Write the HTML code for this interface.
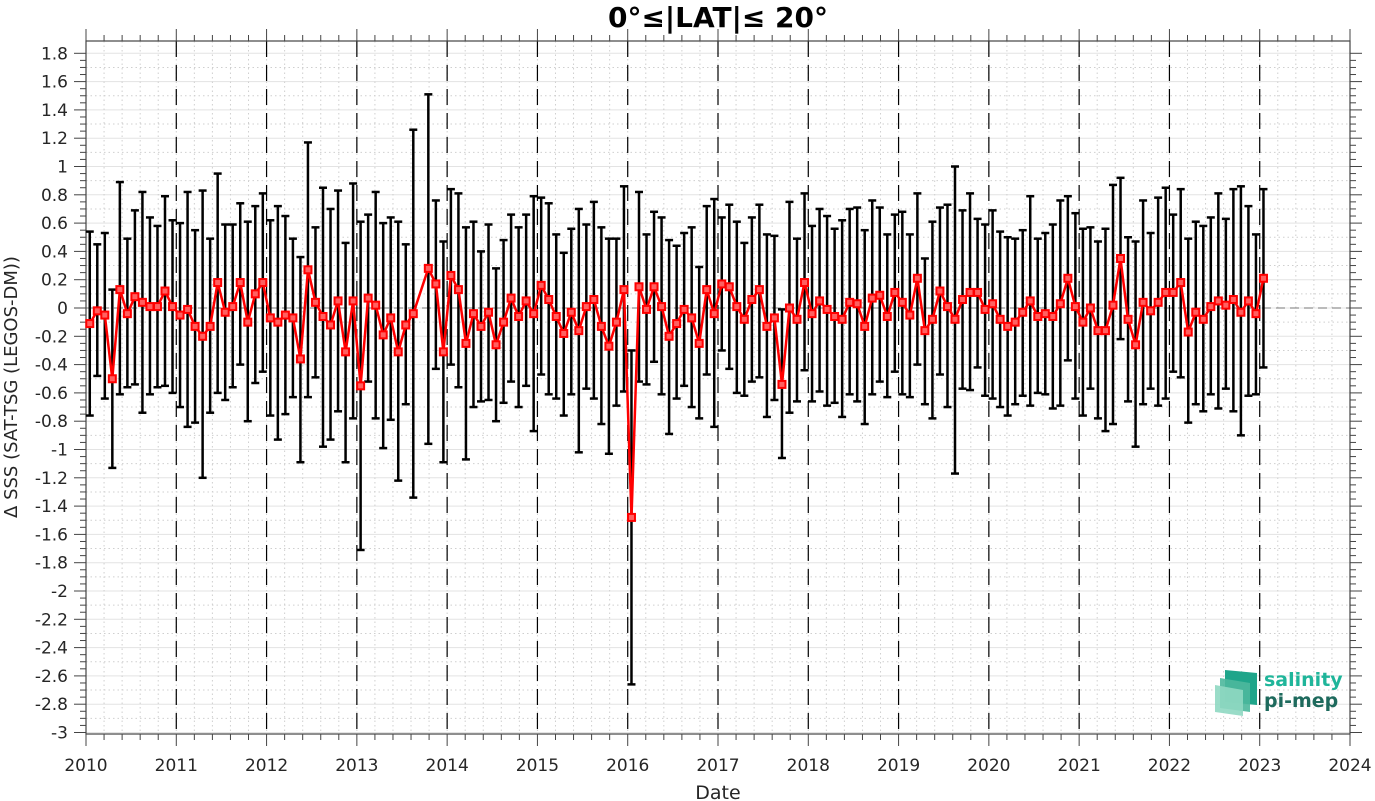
<!DOCTYPE html>
<html><head><meta charset="utf-8">
<style>
html,body{margin:0;padding:0;background:#fff;}
svg{display:block;font-family:"DejaVu Sans","Liberation Sans",sans-serif;}
</style></head>
<body>
<svg id="chart" width="1375" height="801" viewBox="0 0 1375 801" xmlns="http://www.w3.org/2000/svg">
<text x="718" y="27" text-anchor="middle" font-size="28" font-weight="bold" fill="#000">0°≤|LAT|≤ 20°</text>
<text transform="translate(17,387) rotate(-90)" text-anchor="middle" font-size="18" fill="#262626">Δ SSS (SAT-TSG (LEGOS-DM))</text>
<text x="718" y="799" text-anchor="middle" font-size="19" fill="#262626">Date</text>
<g id="grid"></g>
<g id="axes"></g>
<g id="bars"></g>
<g id="series"></g>
<g>
<polygon points="1225,670 1257,673 1257,705 1225,702" fill="#1fa58a"/>
<polygon points="1220,678 1250,683 1250,712 1220,708" fill="#4cb89c" opacity="0.9"/>
<polygon points="1215,685 1243,690 1243,716 1215,712" fill="#8fd8c2" opacity="0.9"/>
<text x="1264" y="686" font-size="19" font-weight="bold" fill="#1fb59a">salinity</text>
<text x="1264" y="707" font-size="19" font-weight="bold" fill="#1e6a5d">pi-mep</text>
</g>
</svg>
<script>
const months=[0,1,2,3,4,5,6,7,8,9,10,11,12,13,14,15,16,17,18,19,20,21,22,23,24,25,26,27,28,29,30,31,32,33,34,35,36,37,38,39,40,41,42,43,
45,46,47,48,49,50,51,52,53,54,55,56,57,58,59,60,61,62,63,64,65,66,67,68,69,70,71,
72,73,74,75,76,77,78,79,80,81,82,83,84,85,86,87,88,89,90,91,92,93,94,95,96,97,98,99,100,101,102,103,104,105,106,107,
108,109,110,111,112,113,114,115,116,117,118,119,120,121,122,123,124,125,126,127,128,129,130,131,132,133,134,135,136,137,138,139,140,141,142,143,
144,145,146,147,148,149,150,151,152,153,154,155,156];
const meanVals=[-0.11,-0.02,-0.05,-0.50,0.13,-0.04,0.08,0.04,0.01,0.01,0.12,0.01,
-0.05,-0.01,-0.13,-0.20,-0.13,0.18,-0.03,0.01,0.18,-0.10,0.10,0.18,
-0.07,-0.10,-0.05,-0.07,-0.36,0.27,0.04,-0.06,-0.12,0.05,-0.31,0.05,
-0.55,0.07,0.02,-0.19,-0.07,-0.31,-0.12,-0.04,
0.28,0.17,-0.31,0.23,0.13,-0.25,-0.04,-0.13,-0.03,-0.26,-0.10,0.07,-0.06,0.05,-0.04,0.16,0.06,-0.06,-0.18,-0.03,-0.16,0.01,0.06,-0.13,-0.27,-0.10,0.13,
-1.48,0.15,-0.01,0.15,0.01,-0.20,-0.11,-0.01,-0.07,-0.25,0.13,-0.04,0.17,0.15,0.01,-0.08,0.06,0.13,-0.13,-0.07,-0.54,0.00,-0.08,0.18,-0.04,0.05,-0.01,-0.06,-0.08,0.04,0.03,-0.13,0.07,0.09,-0.06,0.11,
0.04,-0.05,0.21,-0.16,-0.08,0.12,0.01,-0.08,0.06,0.11,0.11,-0.01,0.03,-0.08,-0.13,-0.10,-0.03,0.05,-0.06,-0.04,-0.06,0.03,0.21,0.01,-0.10,0.00,-0.16,-0.16,0.02,0.35,-0.08,-0.26,0.04,-0.02,0.04,0.11,
0.11,0.18,-0.17,-0.03,-0.08,0.01,0.05,0.02,0.06,-0.03,0.05,-0.04,0.21];
const upperVals=[0.54,0.45,0.53,0.13,0.89,0.49,0.69,0.82,0.64,0.58,0.79,0.62,
0.60,0.82,0.55,0.83,0.49,0.95,0.59,0.59,0.74,0.61,0.72,0.81,
0.62,0.72,0.65,0.49,0.36,1.17,0.57,0.85,0.70,0.83,0.46,0.88,
0.61,0.66,0.82,0.60,0.64,0.61,0.45,1.26,
1.51,0.76,0.47,0.84,0.81,0.57,0.61,0.40,0.59,0.28,0.48,0.66,0.57,0.66,0.79,0.78,0.74,0.52,0.39,0.56,0.70,0.59,0.75,0.57,0.49,0.49,0.86,
-0.30,0.82,0.52,0.68,0.64,0.48,0.44,0.53,0.57,0.29,0.72,0.77,0.64,0.73,0.61,0.46,0.64,0.73,0.52,0.51,-0.01,0.75,0.49,0.81,0.58,0.70,0.65,0.56,0.62,0.70,0.71,0.55,0.76,0.71,0.52,0.66,
0.68,0.52,0.81,0.35,0.61,0.71,0.73,1.00,0.69,0.81,0.63,0.59,0.69,0.54,0.50,0.49,0.55,0.79,0.49,0.53,0.59,0.76,0.79,0.67,0.56,0.57,0.47,0.56,0.87,0.92,0.50,0.47,0.76,0.53,0.78,0.85,
0.66,0.84,0.49,0.61,0.58,0.64,0.81,0.63,0.84,0.86,0.72,0.52,0.84];
const lowerVals=[-0.76,-0.48,-0.64,-1.13,-0.61,-0.56,-0.54,-0.74,-0.61,-0.56,-0.55,-0.60,
-0.70,-0.84,-0.81,-1.20,-0.74,-0.60,-0.65,-0.56,-0.40,-0.80,-0.53,-0.45,
-0.76,-0.93,-0.75,-0.63,-1.09,-0.63,-0.49,-0.98,-0.93,-0.73,-1.09,-0.78,
-1.71,-0.52,-0.78,-0.99,-0.79,-1.22,-0.68,-1.34,
-0.96,-0.43,-1.09,-0.40,-0.56,-1.07,-0.70,-0.66,-0.65,-0.80,-0.67,-0.52,-0.70,-0.55,-0.87,-0.47,-0.61,-0.64,-0.76,-0.61,-1.02,-0.57,-0.64,-0.82,-1.03,-0.69,-0.59,
-2.66,-0.52,-0.54,-0.38,-0.61,-0.89,-0.64,-0.55,-0.70,-0.78,-0.47,-0.84,-0.30,-0.43,-0.60,-0.62,-0.52,-0.49,-0.77,-0.65,-1.06,-0.74,-0.66,-0.44,-0.66,-0.59,-0.69,-0.67,-0.77,-0.61,-0.66,-0.82,-0.61,-0.52,-0.63,-0.45,
-0.61,-0.63,-0.40,-0.68,-0.78,-0.47,-0.70,-1.17,-0.57,-0.58,-0.42,-0.62,-0.64,-0.70,-0.76,-0.68,-0.62,-0.69,-0.60,-0.61,-0.71,-0.69,-0.37,-0.64,-0.76,-0.57,-0.78,-0.87,-0.82,-0.22,-0.66,-0.98,-0.68,-0.57,-0.69,-0.64,
-0.45,-0.49,-0.81,-0.68,-0.73,-0.61,-0.71,-0.57,-0.73,-0.90,-0.62,-0.61,-0.42];
const yearTicks=[2010,2011,2012,2013,2014,2015,2016,2017,2018,2019,2020,2021,2022,2023,2024];
const yTickLabels=['1.8','1.6','1.4','1.2','1','0.8','0.6','0.4','0.2','0','-0.2','-0.4','-0.6','-0.8','-1','-1.2','-1.4','-1.6','-1.8','-2','-2.2','-2.4','-2.6','-2.8','-3'];

const NS='http://www.w3.org/2000/svg';
const L=86,R=1350,T=41,B=734;
function xScale(year){return L+(year-2010)*(R-L)/14;}
function yScale(v){return 308-v*141.5;}
function monthX(m){return xScale(2010+(m+0.5)/12);}
function mk(parent,tag,attrs){const e=document.createElementNS(NS,tag);for(const k in attrs)e.setAttribute(k,attrs[k]);parent.appendChild(e);return e;}
const grid=document.getElementById('grid'),axes=document.getElementById('axes'),bars=document.getElementById('bars'),series=document.getElementById('series');

for(let v=-3;v<=1.85;v+=0.1){const y=yScale(v);const major=Math.abs(Math.round(v*10)%2)===0;
 const l=mk(grid,'line',{x1:L,x2:R,y1:y,y2:y,stroke:major?'#e3e3e3':'#cfcfcf','stroke-width':1,'stroke-dasharray':major?'none':'1.5 3'});
 
 }
for(let yr=2010;yr<2024;yr+=0.2){const x=xScale(yr);
 const l=mk(grid,'line',{x1:x,x2:x,y1:T,y2:B,stroke:'#cfcfcf','stroke-width':1,'stroke-dasharray':'1.5 3'});
 
 }
{const l=mk(grid,'line',{x1:L,x2:R,y1:yScale(0),y2:yScale(0),stroke:'#777','stroke-width':1,'stroke-dasharray':'9 5'});
 
 }
yearTicks.forEach(yr=>{if(yr===2010||yr===2024)return;const x=xScale(yr);
 const l=mk(grid,'line',{x1:x,x2:x,y1:T,y2:B,stroke:'#000','stroke-width':1.2,'stroke-dasharray':'16 8'});
 
 });

{const r=mk(axes,'rect',{x:L,y:T,width:R-L,height:B-T,fill:'none',stroke:'#444','stroke-width':1.2});
 
 }
for(let i=0;i<=70;i++){const yr=2010+i*0.2;const x=xScale(yr);const major=i%5===0;const len=major?12:6;
 mk(axes,'line',{x1:x,x2:x,y1:B,y2:B+len,stroke:'#444','stroke-width':1});
 mk(axes,'line',{x1:x,x2:x,y1:T,y2:T-len,stroke:'#444','stroke-width':1});}
yearTicks.forEach(yr=>{const t=mk(axes,'text',{x:xScale(yr),y:771,'text-anchor':'middle','font-size':17,fill:'#262626'});t.textContent=yr;
 
 });
for(let i=0;i<=96;i++){const v=-3+i*0.05;const y=yScale(v);const major=i%4===0;const len=major?12:6;
 mk(axes,'line',{x1:L,x2:L-len,y1:y,y2:y,stroke:'#444','stroke-width':1});
 mk(axes,'line',{x1:R,x2:R+len,y1:y,y2:y,stroke:'#444','stroke-width':1});}
yTickLabels.forEach(s=>{const t=mk(axes,'text',{x:68,y:yScale(parseFloat(s))+6,'text-anchor':'end','font-size':17,fill:'#262626'});t.textContent=s;
 
 });

months.forEach((m,i)=>{const x=monthX(m),yt=yScale(upperVals[i]),yb=yScale(lowerVals[i]);
 const g=mk(bars,'g',{stroke:'#000','stroke-width':2.5});
 
 
 mk(g,'line',{x1:x,x2:x,y1:yt,y2:yb});
 mk(g,'line',{x1:x-4,x2:x+4,y1:yt,y2:yt});
 mk(g,'line',{x1:x-4,x2:x+4,y1:yb,y2:yb});});
{const pts=months.map((m,i)=>monthX(m).toFixed(1)+','+yScale(meanVals[i]).toFixed(1)).join(' ');
 const p=mk(series,'polyline',{points:pts,fill:'none',stroke:'#ff0000','stroke-width':2.5,'stroke-linejoin':'round'});
 
 }
months.forEach((m,i)=>{const x=monthX(m),y=yScale(meanVals[i]);
 const r=mk(series,'rect',{x:x-3.5,y:y-3.5,width:7,height:7,fill:'#ff6060',stroke:'#ff0000','stroke-width':2});
 
 });
</script>
</body></html>
